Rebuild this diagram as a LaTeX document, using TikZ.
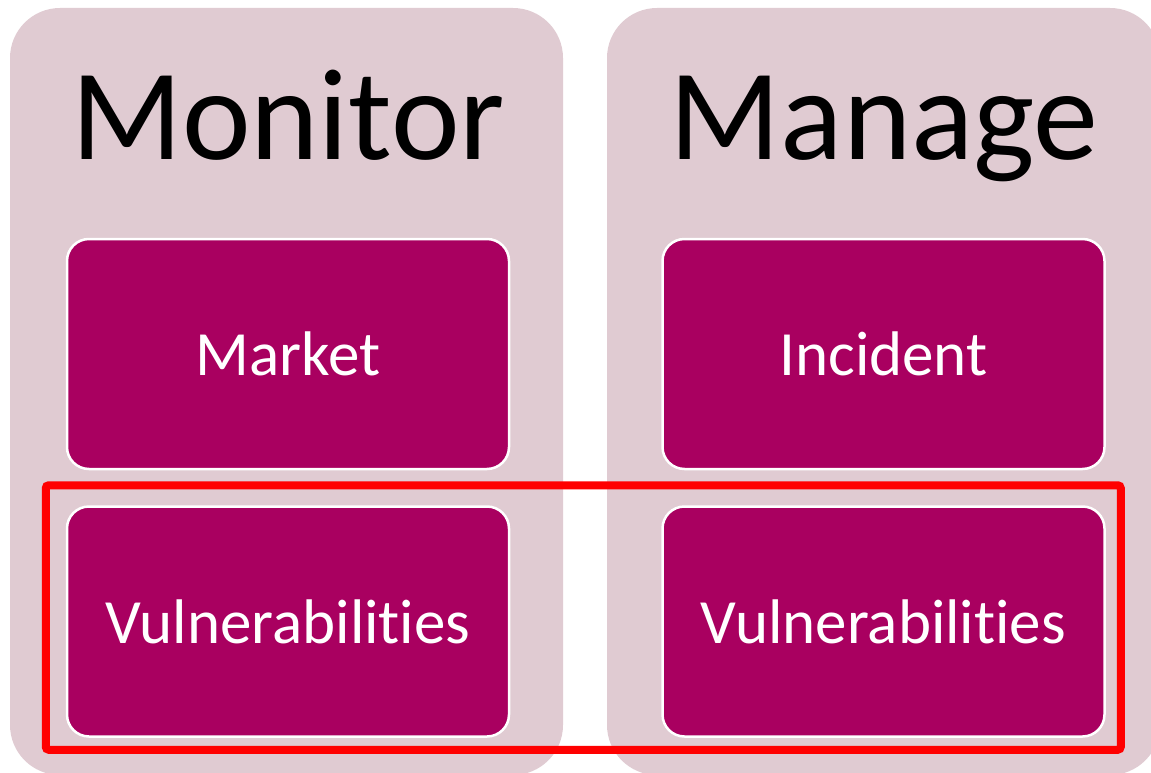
\documentclass[tikz,border=0pt]{standalone}
\usepackage{fontspec}
\setmainfont{Carlito}[Ligatures=NoCommon]
\usetikzlibrary{positioning}
\definecolor{panelpink}{RGB}{224,203,210}
\definecolor{boxplum}{RGB}{169,0,96}

\begin{document}
\begin{tikzpicture}[x=1pt,y=-1pt,node distance=35pt,
        panel/.style={fill=panelpink,rounded corners=50pt,minimum width=553pt,minimum height=767pt,inner sep=0pt},
        title/.style={anchor=base,font=\fontsize{130}{132}\selectfont},
        item/.style={fill=boxplum,draw=white,line width=2.5pt,rounded corners=22pt,minimum width=442pt,minimum height=230pt,text=white,font=\fontsize{63}{65}\selectfont},
        highlight/.style={draw=red,line width=8pt,rounded corners=3pt}]

                \useasboundingbox (0,0) rectangle (1151,773);
                \clip (0,0) rectangle (1151,773);

                \node[panel] (monitor) at (286.5,391.5) {};
                \node[panel] (manage) at (883.5,391.5) {};

                \node[title] (monitortxt) at (288,160) {Monitor};
                \node[title] (managetxt) at (884,160) {Manage};

                \node[item] (market) at (288,354) {Market};
                \node[item] (vulnmon) [below=of market] {Vulnerabilities};
                \node[item] (incident) [right=151pt of market] {Incident};
                \node[item] (vulnman) [below=of incident] {Vulnerabilities};

                % frame round both vulnerability boxes
                \coordinate (framesw) at ([xshift=-20pt,yshift=-12pt]vulnmon.south west);
                \coordinate (framene) at ([xshift=15pt,yshift=20pt]vulnman.north east);
                \draw[highlight] (framesw) rectangle (framene);

            \end{tikzpicture}
\end{document}
